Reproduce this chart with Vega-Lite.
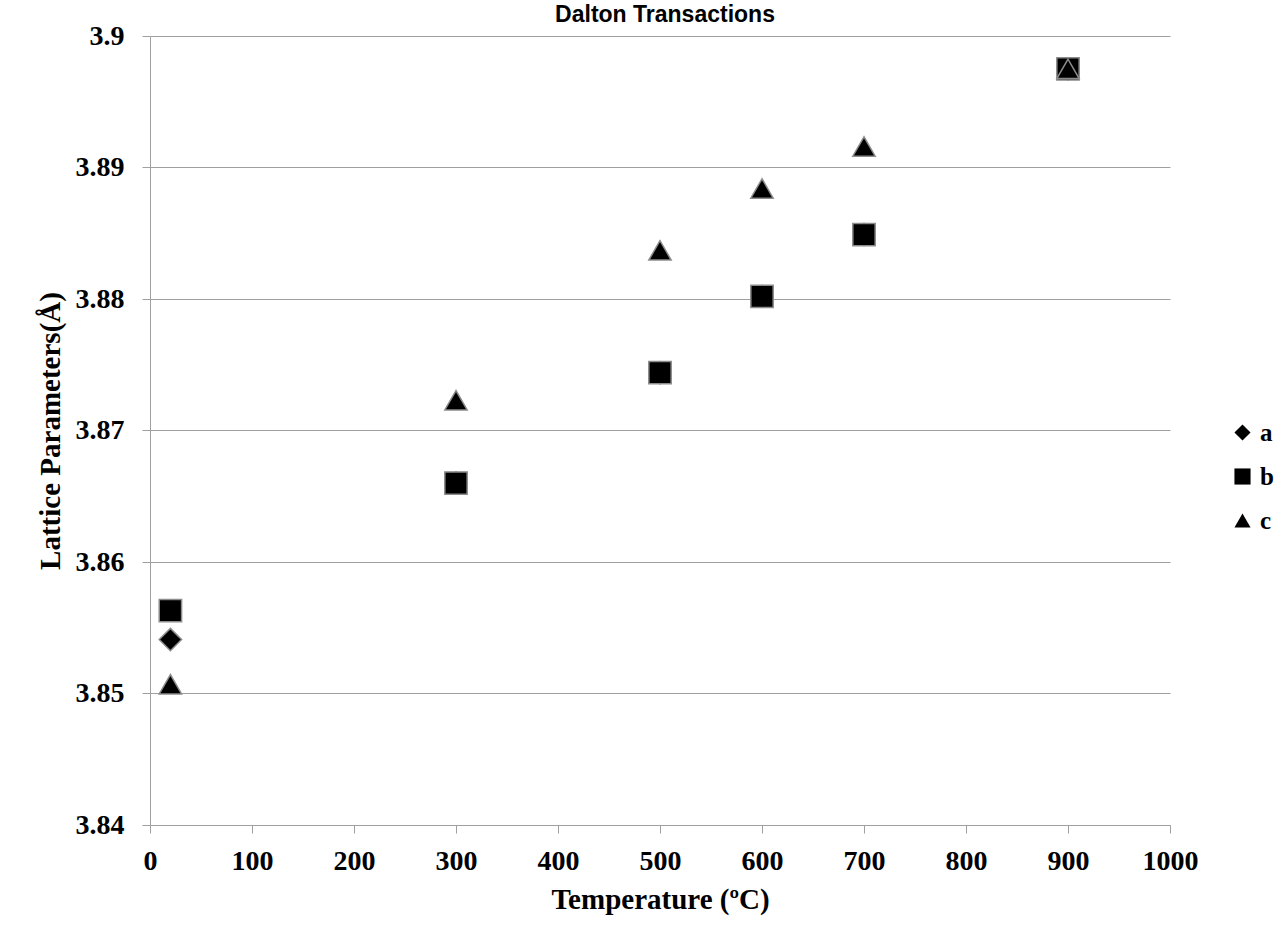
{
  "$schema": "https://vega.github.io/schema/vega-lite/v6.json",
  "autosize": "none",
  "width": 1020,
  "height": 789,
  "padding": {"left": 150, "top": 36, "right": 112, "bottom": 109},
  "background": "white",
  "title": {
    "text": "Dalton Transactions",
    "font": "Liberation Sans",
    "fontSize": 23,
    "fontWeight": "bold",
    "color": "black",
    "anchor": "middle",
    "dx": 5,
    "offset": -5
  },
  "data": {
    "values": [
      {"T": 20, "param": "a", "value": 3.8541},
      {"T": 300, "param": "a", "value": 3.8660},
      {"T": 500, "param": "a", "value": 3.8744},
      {"T": 600, "param": "a", "value": 3.8802},
      {"T": 700, "param": "a", "value": 3.8849},
      {"T": 900, "param": "a", "value": 3.8975},
      {"T": 20, "param": "b", "value": 3.8563},
      {"T": 300, "param": "b", "value": 3.8660},
      {"T": 500, "param": "b", "value": 3.8744},
      {"T": 600, "param": "b", "value": 3.8802},
      {"T": 700, "param": "b", "value": 3.8849},
      {"T": 900, "param": "b", "value": 3.8975},
      {"T": 20, "param": "c", "value": 3.8507},
      {"T": 300, "param": "c", "value": 3.8723},
      {"T": 500, "param": "c", "value": 3.8837},
      {"T": 600, "param": "c", "value": 3.8884},
      {"T": 700, "param": "c", "value": 3.8916},
      {"T": 900, "param": "c", "value": 3.8975}
    ]
  },
  "mark": {"type": "point", "filled": true, "fill": "black", "stroke": "#8c8c8c", "strokeWidth": 1.5, "size": 500, "opacity": 1, "fillOpacity": 1},
  "encoding": {
    "x": {
      "field": "T", "type": "quantitative",
      "scale": {"domain": [0, 1000], "nice": false},
      "axis": {
        "values": [0, 100, 200, 300, 400, 500, 600, 700, 800, 900, 1000],
        "format": "d",
        "grid": false,
        "title": "Temperature (ºC)",
        "titleFont": "Liberation Serif", "titleFontSize": 29, "titleFontWeight": "bold", "titleColor": "black",
        "titlePadding": 10,
        "labelFont": "Liberation Serif", "labelFontSize": 28, "labelFontWeight": "bold", "labelColor": "black",
        "labelPadding": 14,
        "domainColor": "#a0a0a0", "tickColor": "#a0a0a0", "tickSize": 8,
        "labelFlush": false
      }
    },
    "y": {
      "field": "value", "type": "quantitative",
      "scale": {"domain": [3.84, 3.9], "nice": false, "zero": false},
      "axis": {
        "values": [3.84, 3.85, 3.86, 3.87, 3.88, 3.89, 3.9],
        "format": ".3~f",
        "grid": true, "gridColor": "#a0a0a0", "gridWidth": 1,
        "title": "Lattice Parameters(Å)",
        "titleFont": "Liberation Serif", "titleFontSize": 29, "titleFontWeight": "bold", "titleColor": "black",
        "titlePadding": 10,
        "labelFont": "Liberation Serif", "labelFontSize": 28, "labelFontWeight": "bold", "labelColor": "black",
        "labelPadding": 18,
        "domainColor": "#a0a0a0", "tickColor": "#a0a0a0", "tickSize": 8,
        "labelFlush": false
      }
    },
    "shape": {
      "field": "param", "type": "nominal",
      "scale": {"domain": ["a", "b", "c"], "range": ["diamond", "square", "triangle-up"]},
      "legend": {
        "title": null,
        "orient": "none",
        "legendX": 1080,
        "legendY": 384,
        "symbolSize": 260,
        "symbolFillColor": "black",
        "symbolStrokeColor": "black",
        "symbolStrokeWidth": 0,
        "labelFont": "Liberation Serif", "labelFontSize": 25, "labelFontWeight": "bold", "labelColor": "black",
        "rowPadding": 18,
        "labelOffset": 5
      }
    }
  },
  "config": {
    "view": {"stroke": null}
  }
}
